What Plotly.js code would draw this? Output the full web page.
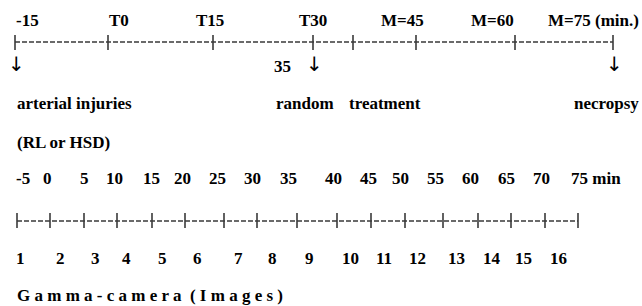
<!DOCTYPE html>
<html>
<head>
<meta charset="utf-8">
<script src="https://cdn.plot.ly/plotly-3.0.1.min.js"></script>
<style>html,body{margin:0;padding:0;background:#fff;}#chart{width:642px;height:306px;}</style>
</head>
<body>
<div id="chart"></div>
<script>
// ---- content (data) ----
const topLabels = ['-15', 'T0', 'T15', 'T30', 'M=45', 'M=60', 'M=75 (min.)'];
const eventLabels = ['arterial injuries', 'random', 'treatment', 'necropsy'];
const eventNote = '(RL or HSD)';
const randomLabel = '35';
const minuteLabels = ['-5', '0', '5', '10', '15', '20', '25', '30', '35', '40', '45', '50', '55', '60', '65', '70', '75 min'];
const imageLabels = ['1', '2', '3', '4', '5', '6', '7', '8', '9', '10', '11', '12', '13', '14', '15', '16'];
const cameraLabel = 'G a m m a - c a m e r a \u00a0( I m a g e s )';

// ---- layout positions (pixel space of the sketch) ----
const topLabelX = [15, 108, 210, 313, 402, 492, 547];
const topLabelAnchor = ['left', 'left', 'center', 'center', 'center', 'center', 'left'];
const topTickX = [15, 108, 213, 313, 353, 416, 515, 613];
const arrowX = [16, 314, 614];
const eventX = [16, 275, 348, 640];
const eventAnchor = ['left', 'left', 'left', 'right'];
const minuteX = [23, 47, 84, 114, 151, 182, 217, 252, 288, 333, 368, 400, 435, 470, 506, 541, 570];
const imageTickX = [17, 50, 84, 117, 152, 185, 224, 257, 297, 337, 371, 405, 443, 478, 511, 545, 578];
const imageX = [20, 60, 95, 126, 162, 197, 238, 272, 309, 350, 384, 417, 456, 492, 523, 558];

const Y = {top: 20, topLine: 42, arrow: 64, events: 103, note: 142, minutes: 178, imgLine: 221, images: 258, camera: 295};

const FONT = {family: 'Liberation Serif, Times New Roman, serif', size: 17, color: '#000', weight: 'bold'};
const LINE_COLOR = '#3a3a3a';

function ann(text, x, y, anchor, extra) {
  return Object.assign({text: '<b>' + text + '</b>', x: x, y: y, xref: 'x', yref: 'y', xanchor: anchor || 'center', yanchor: 'middle',
    showarrow: false, font: FONT, borderpad: 0}, extra || {});
}

const annotations = [];
topLabels.forEach((t, i) => annotations.push(ann(t, topLabelX[i], Y.top, topLabelAnchor[i])));
arrowX.forEach(x => annotations.push(ann('\u2193', x, Y.arrow, 'center', {text: '\u2193', font: {family: 'DejaVu Sans', size: 20, color: '#000'}})));
annotations.push(ann(randomLabel, 282, Y.arrow + 2, 'center'));
eventLabels.forEach((t, i) => annotations.push(ann(t, eventX[i], Y.events, eventAnchor[i])));
annotations.push(ann(eventNote, 16, Y.note, 'left'));
minuteLabels.forEach((t, i) => annotations.push(ann(t, minuteX[i], Y.minutes, i === minuteLabels.length - 1 ? 'left' : 'center')));
imageLabels.forEach((t, i) => annotations.push(ann(t, imageX[i], Y.images, 'center')));
annotations.push(ann(cameraLabel, 16, Y.camera, 'left'));

function ticks(xs, y0, y1) {
  const x = [], y = [];
  xs.forEach(v => { x.push(v, v, null); y.push(y0, y1, null); });
  return {x: x, y: y};
}

const topTicks = ticks(topTickX, Y.topLine - 7, Y.topLine + 8);
const imgTicks = ticks(imageTickX, Y.imgLine - 8, Y.imgLine + 7);

const traces = [
  {type: 'scatter', mode: 'lines', x: [topTickX[0], topTickX[topTickX.length - 1]], y: [Y.topLine, Y.topLine],
   line: {color: LINE_COLOR, width: 1.4, dash: '5px,2px'}, hoverinfo: 'skip'},
  {type: 'scatter', mode: 'lines', x: topTicks.x, y: topTicks.y, line: {color: LINE_COLOR, width: 1.6}, hoverinfo: 'skip'},
  {type: 'scatter', mode: 'lines', x: [imageTickX[0], imageTickX[imageTickX.length - 1]], y: [Y.imgLine, Y.imgLine],
   line: {color: LINE_COLOR, width: 1.4, dash: '5px,2px'}, hoverinfo: 'skip'},
  {type: 'scatter', mode: 'lines', x: imgTicks.x, y: imgTicks.y, line: {color: LINE_COLOR, width: 1.6}, hoverinfo: 'skip'}
];

const layout = {
  width: 642, height: 306,
  margin: {l: 0, r: 0, t: 0, b: 0, pad: 0},
  paper_bgcolor: '#fff', plot_bgcolor: '#fff',
  showlegend: false,
  font: {family: 'Liberation Serif, Times New Roman, serif'},
  xaxis: {range: [0, 642], visible: false, fixedrange: true},
  yaxis: {range: [306, 0], visible: false, fixedrange: true},
  annotations: annotations
};

Plotly.newPlot('chart', traces, layout, {staticPlot: true, displayModeBar: false});
</script>
</body>
</html>
